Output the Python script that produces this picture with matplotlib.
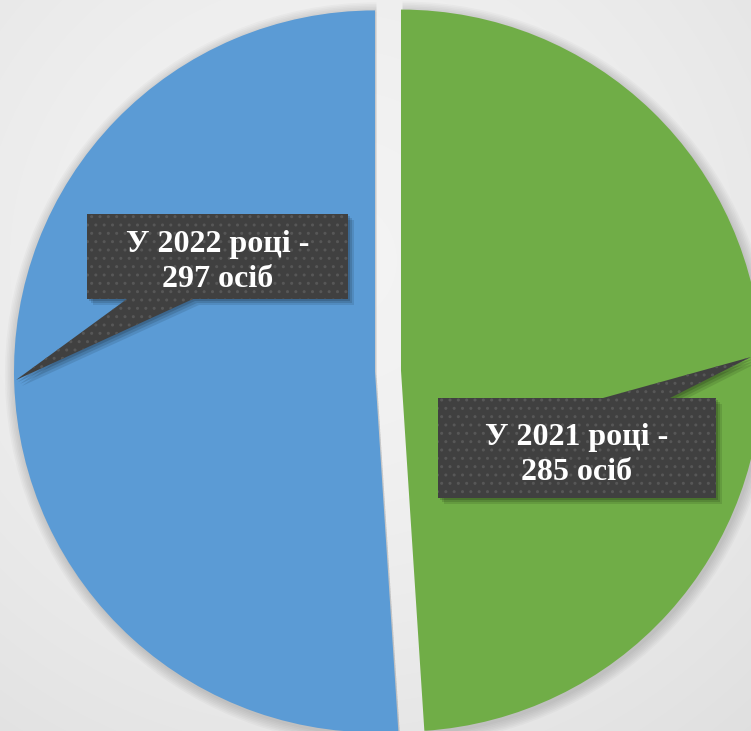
import numpy as np
import matplotlib
matplotlib.use("Agg")
import matplotlib.pyplot as plt
from matplotlib.patches import Polygon, Wedge

# ---- data ----
years = ["2021", "2022"]
values = [285, 297]
labels = ["У 2021 році -\n285 осіб", "У 2022 році -\n297 осіб"]
colors = ["#70ad47", "#5b9bd5"]

W, H = 751, 731
fig = plt.figure(figsize=(W / 100, H / 100), dpi=100)
ax = fig.add_axes([0, 0, 1, 1])

# background gradient
yy, xx = np.mgrid[0:H, 0:W]
r = np.hypot((xx - 330) / W, (yy - 260) / H)
bg = 0.955 - 0.10 * r ** 1.6
bg = np.clip(bg, 0.86, 0.96)
ax.imshow(np.dstack([bg, bg, bg]), extent=(0, W, 0, H), origin="upper", zorder=0,
          aspect="auto")

def py(y):
    return H - y

# pie
R = 361
wedges, _ = ax.pie(values, colors=colors, startangle=90, counterclock=False,
                   center=(388, py(371)), radius=R, explode=[13, 13],
                   wedgeprops=dict(linewidth=0))
for w in wedges:
    w.set_zorder(3)
    for k in range(7):
        sh = Wedge((w.center[0] + 1.5, w.center[1] - 2.5), w.r + 1 + k * 1.6,
                   w.theta1, w.theta2, facecolor="black", alpha=0.022,
                   linewidth=0, zorder=2)
        ax.add_patch(sh)

plt.rcParams["hatch.linewidth"] = 1.0

# callouts
def callout(pts, text, center):
    pts = np.array([(x, py(y)) for x, y in pts], float)
    for k, a in [(6, 0.10), (4, 0.12), (2, 0.15)]:
        ax.add_patch(Polygon(pts + np.array([k, -k]), closed=True,
                             facecolor="black", alpha=a, linewidth=0, zorder=4))
    ax.add_patch(Polygon(pts, closed=True, facecolor="#404040",
                         edgecolor="#575757", hatch="..", linewidth=0, zorder=5))
    ax.text(center[0], py(center[1]), text, ha="center", va="center",
            color="white", fontsize=23, fontweight="bold",
            family=["Liberation Serif", "DejaVu Serif"], linespacing=1.3,
            zorder=6)

callout([(87, 214), (348, 214), (348, 299), (193, 299), (16, 380), (127, 299),
         (87, 299)], labels[1], (218, 262))
callout([(438, 398), (603, 398), (751, 357), (670, 398), (716, 398), (716, 498),
         (438, 498)], labels[0], (577, 455))

ax.set_xlim(0, W)
ax.set_ylim(0, H)
ax.set_aspect("auto")
ax.axis("off")
fig.savefig("out.png", dpi=100)
